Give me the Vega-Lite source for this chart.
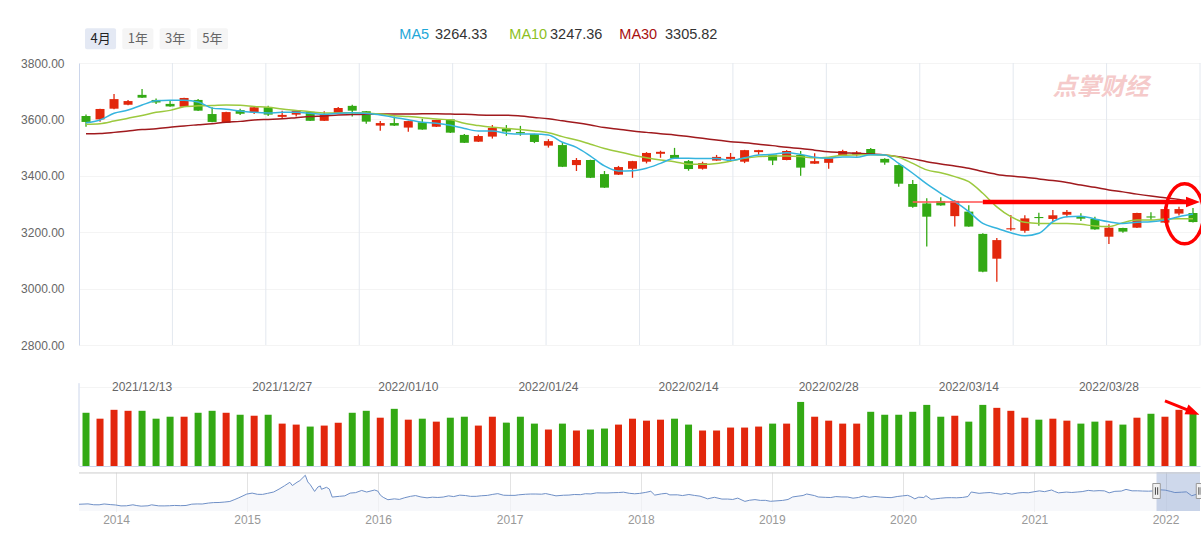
{
"$schema":"https://vega.github.io/schema/vega-lite/v6.json",
"autosize":{"type":"pad"},
"padding":{"left":20,"top":20,"right":0,"bottom":0},
"background":"white",
"spacing":6,
"bounds":"flush",
"config":{"view":{"stroke":null},"font":"Liberation Sans","axis":{"labelFont":"Liberation Sans"}},
"datasets":{
"k":[
{"d":"2021/12/07","o":3612,"h":3617,"l":3574,"c":3591,"v":162,"m5":3588,"m10":3583,"m30":3549},
{"d":"2021/12/08","o":3600,"h":3638,"l":3592,"c":3637,"v":144,"m5":3598,"m10":3585,"m30":3550},
{"d":"2021/12/09","o":3638,"h":3690,"l":3636,"c":3672,"v":171,"m5":3622,"m10":3594,"m30":3554},
{"d":"2021/12/10","o":3652,"h":3669,"l":3650,"c":3665,"v":168,"m5":3633,"m10":3604,"m30":3559},
{"d":"2021/12/13","o":3687,"h":3708,"l":3676,"c":3677,"v":168,"m5":3651,"m10":3614,"m30":3564},
{"d":"2021/12/14","o":3669,"h":3674,"l":3655,"c":3660,"v":144,"m5":3666,"m10":3625,"m30":3567},
{"d":"2021/12/15","o":3655,"h":3668,"l":3645,"c":3646,"v":150,"m5":3668,"m10":3632,"m30":3572},
{"d":"2021/12/16","o":3645,"h":3677,"l":3644,"c":3676,"v":150,"m5":3668,"m10":3645,"m30":3577},
{"d":"2021/12/17","o":3669,"h":3672,"l":3630,"c":3631,"v":162,"m5":3662,"m10":3648,"m30":3581},
{"d":"2021/12/20","o":3619,"h":3643,"l":3590,"c":3591,"v":168,"m5":3640,"m10":3649,"m30":3585},
{"d":"2021/12/21","o":3588,"h":3627,"l":3587,"c":3626,"v":162,"m5":3636,"m10":3651,"m30":3590},
{"d":"2021/12/22","o":3633,"h":3638,"l":3616,"c":3620,"v":156,"m5":3630,"m10":3650,"m30":3593},
{"d":"2021/12/23","o":3625,"h":3645,"l":3619,"c":3643,"v":153,"m5":3625,"m10":3646,"m30":3598},
{"d":"2021/12/24","o":3643,"h":3648,"l":3612,"c":3617,"v":156,"m5":3623,"m10":3643,"m30":3600},
{"d":"2021/12/27","o":3609,"h":3631,"l":3602,"c":3616,"v":129,"m5":3625,"m10":3637,"m30":3602},
{"d":"2021/12/28","o":3617,"h":3633,"l":3610,"c":3631,"v":126,"m5":3625,"m10":3632,"m30":3606},
{"d":"2021/12/29","o":3627,"h":3628,"l":3594,"c":3595,"v":120,"m5":3622,"m10":3627,"m30":3610},
{"d":"2021/12/30","o":3595,"h":3629,"l":3594,"c":3617,"v":123,"m5":3618,"m10":3623,"m30":3612},
{"d":"2021/12/31","o":3623,"h":3644,"l":3622,"c":3640,"v":132,"m5":3622,"m10":3623,"m30":3616},
{"d":"2022/01/04","o":3648,"h":3652,"l":3610,"c":3631,"v":162,"m5":3624,"m10":3624,"m30":3617},
{"d":"2022/01/05","o":3629,"h":3630,"l":3585,"c":3592,"v":168,"m5":3621,"m10":3623,"m30":3618},
{"d":"2022/01/06","o":3578,"h":3594,"l":3560,"c":3587,"v":147,"m5":3616,"m10":3619,"m30":3619},
{"d":"2022/01/07","o":3587,"h":3610,"l":3577,"c":3578,"v":174,"m5":3607,"m10":3613,"m30":3619},
{"d":"2022/01/10","o":3571,"h":3595,"l":3556,"c":3594,"v":141,"m5":3599,"m10":3610,"m30":3619},
{"d":"2022/01/11","o":3590,"h":3602,"l":3563,"c":3564,"v":144,"m5":3590,"m10":3606,"m30":3620},
{"d":"2022/01/12","o":3574,"h":3599,"l":3573,"c":3598,"v":135,"m5":3586,"m10":3601,"m30":3620},
{"d":"2022/01/13","o":3600,"h":3601,"l":3552,"c":3553,"v":147,"m5":3579,"m10":3599,"m30":3619},
{"d":"2022/01/14","o":3545,"h":3548,"l":3516,"c":3517,"v":150,"m5":3568,"m10":3586,"m30":3618},
{"d":"2022/01/17","o":3521,"h":3546,"l":3520,"c":3541,"v":123,"m5":3559,"m10":3578,"m30":3616},
{"d":"2022/01/18","o":3539,"h":3580,"l":3532,"c":3570,"v":150,"m5":3559,"m10":3572,"m30":3615},
{"d":"2022/01/19","o":3567,"h":3580,"l":3542,"c":3557,"v":132,"m5":3551,"m10":3568,"m30":3615},
{"d":"2022/01/20","o":3555,"h":3577,"l":3542,"c":3551,"v":150,"m5":3548,"m10":3564,"m30":3612},
{"d":"2022/01/21","o":3548,"h":3549,"l":3516,"c":3520,"v":129,"m5":3548,"m10":3559,"m30":3607},
{"d":"2022/01/24","o":3507,"h":3530,"l":3500,"c":3523,"v":111,"m5":3545,"m10":3553,"m30":3602},
{"d":"2022/01/25","o":3509,"h":3519,"l":3431,"c":3432,"v":129,"m5":3519,"m10":3539,"m30":3595},
{"d":"2022/01/26","o":3438,"h":3463,"l":3417,"c":3456,"v":108,"m5":3501,"m10":3527,"m30":3588},
{"d":"2022/01/27","o":3456,"h":3457,"l":3392,"c":3393,"v":111,"m5":3470,"m10":3512,"m30":3580},
{"d":"2022/01/28","o":3406,"h":3417,"l":3357,"c":3358,"v":114,"m5":3435,"m10":3497,"m30":3571},
{"d":"2022/02/07","o":3404,"h":3435,"l":3403,"c":3431,"v":126,"m5":3417,"m10":3485,"m30":3565},
{"d":"2022/02/08","o":3425,"h":3453,"l":3393,"c":3452,"v":144,"m5":3418,"m10":3474,"m30":3559},
{"d":"2022/02/09","o":3450,"h":3484,"l":3444,"c":3481,"v":138,"m5":3427,"m10":3464,"m30":3554},
{"d":"2022/02/10","o":3478,"h":3489,"l":3464,"c":3485,"v":141,"m5":3444,"m10":3456,"m30":3549},
{"d":"2022/02/11","o":3474,"h":3499,"l":3461,"c":3462,"v":144,"m5":3462,"m10":3450,"m30":3545},
{"d":"2022/02/14","o":3452,"h":3456,"l":3418,"c":3424,"v":126,"m5":3462,"m10":3441,"m30":3539},
{"d":"2022/02/15","o":3425,"h":3450,"l":3422,"c":3445,"v":108,"m5":3461,"m10":3441,"m30":3533},
{"d":"2022/02/16","o":3454,"h":3474,"l":3453,"c":3467,"v":108,"m5":3461,"m10":3444,"m30":3527},
{"d":"2022/02/17","o":3460,"h":3481,"l":3450,"c":3467,"v":117,"m5":3455,"m10":3452,"m30":3521},
{"d":"2022/02/18","o":3450,"h":3492,"l":3445,"c":3491,"v":117,"m5":3464,"m10":3462,"m30":3517},
{"d":"2022/02/21","o":3484,"h":3492,"l":3474,"c":3491,"v":120,"m5":3474,"m10":3468,"m30":3512},
{"d":"2022/02/22","o":3475,"h":3476,"l":3438,"c":3454,"v":129,"m5":3476,"m10":3470,"m30":3507},
{"d":"2022/02/23","o":3456,"h":3491,"l":3455,"c":3488,"v":129,"m5":3482,"m10":3470,"m30":3501},
{"d":"2022/02/24","o":3474,"h":3488,"l":3400,"c":3429,"v":195,"m5":3476,"m10":3468,"m30":3497},
{"d":"2022/02/25","o":3443,"h":3480,"l":3442,"c":3452,"v":150,"m5":3466,"m10":3464,"m30":3491},
{"d":"2022/02/28","o":3446,"h":3465,"l":3425,"c":3462,"v":138,"m5":3462,"m10":3466,"m30":3485},
{"d":"2022/03/01","o":3471,"h":3492,"l":3470,"c":3488,"v":129,"m5":3467,"m10":3473,"m30":3482},
{"d":"2022/03/02","o":3474,"h":3488,"l":3468,"c":3483,"v":129,"m5":3466,"m10":3474,"m30":3480},
{"d":"2022/03/03","o":3495,"h":3499,"l":3476,"c":3477,"v":165,"m5":3475,"m10":3475,"m30":3477},
{"d":"2022/03/04","o":3460,"h":3462,"l":3439,"c":3447,"v":156,"m5":3474,"m10":3474,"m30":3474},
{"d":"2022/03/07","o":3438,"h":3440,"l":3361,"c":3372,"v":156,"m5":3444,"m10":3466,"m30":3468},
{"d":"2022/03/08","o":3371,"h":3385,"l":3287,"c":3290,"v":165,"m5":3409,"m10":3444,"m30":3460},
{"d":"2022/03/09","o":3302,"h":3320,"l":3149,"c":3255,"v":186,"m5":3371,"m10":3421,"m30":3450},
{"d":"2022/03/10","o":3310,"h":3324,"l":3294,"c":3295,"v":150,"m5":3338,"m10":3411,"m30":3442},
{"d":"2022/03/11","o":3257,"h":3313,"l":3220,"c":3311,"v":153,"m5":3308,"m10":3397,"m30":3435},
{"d":"2022/03/14","o":3273,"h":3296,"l":3219,"c":3220,"v":135,"m5":3273,"m10":3379,"m30":3427},
{"d":"2022/03/15","o":3194,"h":3196,"l":3058,"c":3060,"v":186,"m5":3231,"m10":3338,"m30":3415},
{"d":"2022/03/16","o":3106,"h":3179,"l":3024,"c":3172,"v":177,"m5":3214,"m10":3290,"m30":3405},
{"d":"2022/03/17","o":3210,"h":3261,"l":3205,"c":3214,"v":168,"m5":3198,"m10":3255,"m30":3399},
{"d":"2022/03/18","o":3205,"h":3260,"l":3198,"c":3249,"v":147,"m5":3187,"m10":3235,"m30":3395},
{"d":"2022/03/21","o":3254,"h":3269,"l":3223,"c":3250,"v":141,"m5":3196,"m10":3231,"m30":3389},
{"d":"2022/03/22","o":3247,"h":3279,"l":3240,"c":3260,"v":144,"m5":3237,"m10":3231,"m30":3383},
{"d":"2022/03/23","o":3262,"h":3279,"l":3253,"c":3272,"v":138,"m5":3255,"m10":3231,"m30":3376},
{"d":"2022/03/24","o":3255,"h":3267,"l":3240,"c":3248,"v":129,"m5":3257,"m10":3228,"m30":3367},
{"d":"2022/03/25","o":3247,"h":3255,"l":3209,"c":3210,"v":135,"m5":3247,"m10":3222,"m30":3359},
{"d":"2022/03/28","o":3184,"h":3228,"l":3158,"c":3216,"v":138,"m5":3237,"m10":3220,"m30":3350},
{"d":"2022/03/29","o":3215,"h":3216,"l":3198,"c":3202,"v":126,"m5":3231,"m10":3234,"m30":3343},
{"d":"2022/03/30","o":3216,"h":3269,"l":3215,"c":3268,"v":147,"m5":3235,"m10":3243,"m30":3335},
{"d":"2022/03/31","o":3256,"h":3271,"l":3243,"c":3252,"v":159,"m5":3237,"m10":3243,"m30":3328},
{"d":"2022/04/01","o":3234,"h":3290,"l":3233,"c":3282,"v":150,"m5":3243,"m10":3247,"m30":3322},
{"d":"2022/04/06","o":3266,"h":3290,"l":3259,"c":3282,"v":171,"m5":3255,"m10":3248,"m30":3316},
{"d":"2022/04/07","o":3268,"h":3286,"l":3234,"c":3236,"v":159,"m5":3264.33,"m10":3247.36,"m30":3305.82}
],
"nav":[
{"t":"2013-09-20","p":2191},{"t":"2013-10-15","p":2230},{"t":"2013-10-31","p":2141},{"t":"2013-11-15","p":2135},{"t":"2013-11-29","p":2220},{"t":"2013-12-16","p":2160},{"t":"2013-12-31","p":2116},
{"t":"2014-01-15","p":2023},{"t":"2014-01-30","p":2033},{"t":"2014-02-17","p":2135},{"t":"2014-02-28","p":2056},{"t":"2014-03-12","p":1997},{"t":"2014-03-31","p":2033},{"t":"2014-04-10","p":2134},{"t":"2014-04-30","p":2026},{"t":"2014-05-15","p":2024},{"t":"2014-05-30","p":2039},{"t":"2014-06-13","p":2070},{"t":"2014-06-30","p":2048},{"t":"2014-07-15","p":2067},{"t":"2014-07-31","p":2201},{"t":"2014-08-15","p":2226},{"t":"2014-08-29","p":2217},{"t":"2014-09-15","p":2311},{"t":"2014-09-30","p":2363},{"t":"2014-10-15","p":2373},{"t":"2014-10-31","p":2420},{"t":"2014-11-14","p":2478},{"t":"2014-11-28","p":2683},{"t":"2014-12-09","p":2856},{"t":"2014-12-31","p":3235},
{"t":"2015-01-15","p":3336},{"t":"2015-01-30","p":3210},{"t":"2015-02-13","p":3203},{"t":"2015-02-27","p":3310},{"t":"2015-03-16","p":3449},{"t":"2015-03-31","p":3748},{"t":"2015-04-15","p":4084},{"t":"2015-04-30","p":4441},{"t":"2015-05-07","p":4112},{"t":"2015-05-20","p":4446},{"t":"2015-05-28","p":4620},{"t":"2015-06-12","p":5166},{"t":"2015-06-19","p":4478},{"t":"2015-06-26","p":4192},{"t":"2015-07-08","p":3507},{"t":"2015-07-17","p":3957},{"t":"2015-07-24","p":4070},{"t":"2015-07-27","p":3725},{"t":"2015-08-10","p":3928},{"t":"2015-08-18","p":3748},{"t":"2015-08-26","p":2927},{"t":"2015-09-15","p":3005},{"t":"2015-09-30","p":3053},{"t":"2015-10-15","p":3338},{"t":"2015-10-30","p":3383},{"t":"2015-11-16","p":3606},{"t":"2015-11-30","p":3445},{"t":"2015-12-22","p":3651},{"t":"2015-12-31","p":3539},
{"t":"2016-01-07","p":3125},{"t":"2016-01-15","p":2901},{"t":"2016-01-28","p":2656},{"t":"2016-02-15","p":2746},{"t":"2016-02-29","p":2688},{"t":"2016-03-15","p":2864},{"t":"2016-03-31","p":3004},{"t":"2016-04-14","p":3082},{"t":"2016-04-29","p":2938},{"t":"2016-05-16","p":2850},{"t":"2016-05-31","p":2917},{"t":"2016-06-15","p":2887},{"t":"2016-06-30","p":2930},{"t":"2016-07-15","p":3054},{"t":"2016-07-29","p":2979},{"t":"2016-08-15","p":3125},{"t":"2016-08-31","p":3085},{"t":"2016-09-14","p":3002},{"t":"2016-09-30","p":3005},{"t":"2016-10-14","p":3064},{"t":"2016-10-31","p":3100},{"t":"2016-11-15","p":3206},{"t":"2016-11-29","p":3282},{"t":"2016-12-15","p":3118},{"t":"2016-12-30","p":3104},
{"t":"2017-01-16","p":3103},{"t":"2017-01-26","p":3159},{"t":"2017-02-14","p":3217},{"t":"2017-02-28","p":3242},{"t":"2017-03-15","p":3241},{"t":"2017-03-31","p":3223},{"t":"2017-04-11","p":3289},{"t":"2017-04-28","p":3155},{"t":"2017-05-10","p":3053},{"t":"2017-05-31","p":3117},{"t":"2017-06-15","p":3132},{"t":"2017-06-30","p":3192},{"t":"2017-07-17","p":3176},{"t":"2017-07-31","p":3273},{"t":"2017-08-15","p":3251},{"t":"2017-08-31","p":3361},{"t":"2017-09-15","p":3353},{"t":"2017-09-29","p":3349},{"t":"2017-10-16","p":3378},{"t":"2017-10-31","p":3393},{"t":"2017-11-14","p":3430},{"t":"2017-11-30","p":3317},{"t":"2017-12-15","p":3266},{"t":"2017-12-29","p":3307},
{"t":"2018-01-15","p":3410},{"t":"2018-01-29","p":3523},{"t":"2018-02-09","p":3129},{"t":"2018-02-28","p":3259},{"t":"2018-03-13","p":3310},{"t":"2018-03-23","p":3153},{"t":"2018-04-13","p":3159},{"t":"2018-04-27","p":3082},{"t":"2018-05-15","p":3192},{"t":"2018-05-31","p":3095},{"t":"2018-06-15","p":3021},{"t":"2018-06-29","p":2847},{"t":"2018-07-06","p":2747},{"t":"2018-07-25","p":2904},{"t":"2018-08-15","p":2723},{"t":"2018-08-31","p":2725},{"t":"2018-09-14","p":2682},{"t":"2018-09-28","p":2821},{"t":"2018-10-18","p":2486},{"t":"2018-10-31","p":2603},{"t":"2018-11-15","p":2668},{"t":"2018-11-30","p":2588},{"t":"2018-12-14","p":2594},{"t":"2018-12-28","p":2494},
{"t":"2019-01-04","p":2514},{"t":"2019-01-31","p":2585},{"t":"2019-02-15","p":2682},{"t":"2019-02-28","p":2941},{"t":"2019-03-15","p":3021},{"t":"2019-03-29","p":3091},{"t":"2019-04-08","p":3244},{"t":"2019-04-30","p":3078},{"t":"2019-05-10","p":2939},{"t":"2019-05-31","p":2899},{"t":"2019-06-14","p":2882},{"t":"2019-06-28","p":2979},{"t":"2019-07-15","p":2942},{"t":"2019-07-31","p":2933},{"t":"2019-08-15","p":2815},{"t":"2019-08-30","p":2886},{"t":"2019-09-12","p":3031},{"t":"2019-09-30","p":2905},{"t":"2019-10-15","p":2991},{"t":"2019-10-31","p":2929},{"t":"2019-11-15","p":2891},{"t":"2019-11-29","p":2871},{"t":"2019-12-16","p":2984},{"t":"2019-12-31","p":3050},
{"t":"2020-01-14","p":3106},{"t":"2020-01-23","p":2977},{"t":"2020-02-03","p":2746},{"t":"2020-02-14","p":2917},{"t":"2020-02-28","p":2880},{"t":"2020-03-05","p":3071},{"t":"2020-03-19","p":2702},{"t":"2020-03-31","p":2750},{"t":"2020-04-15","p":2811},{"t":"2020-04-30","p":2860},{"t":"2020-05-15","p":2868},{"t":"2020-05-29","p":2852},{"t":"2020-06-15","p":2890},{"t":"2020-06-30","p":2985},{"t":"2020-07-09","p":3450},{"t":"2020-07-31","p":3310},{"t":"2020-08-14","p":3360},{"t":"2020-08-31","p":3396},{"t":"2020-09-15","p":3295},{"t":"2020-09-30","p":3218},{"t":"2020-10-15","p":3332},{"t":"2020-10-30","p":3225},{"t":"2020-11-16","p":3347},{"t":"2020-11-30","p":3392},{"t":"2020-12-15","p":3368},{"t":"2020-12-31","p":3473},
{"t":"2021-01-15","p":3566},{"t":"2021-01-29","p":3483},{"t":"2021-02-18","p":3655},{"t":"2021-02-26","p":3509},{"t":"2021-03-09","p":3360},{"t":"2021-03-31","p":3441},{"t":"2021-04-15","p":3398},{"t":"2021-04-30","p":3447},{"t":"2021-05-14","p":3490},{"t":"2021-05-31","p":3615},{"t":"2021-06-15","p":3556},{"t":"2021-06-30","p":3591},{"t":"2021-07-15","p":3564},{"t":"2021-07-28","p":3362},{"t":"2021-08-13","p":3517},{"t":"2021-08-31","p":3544},{"t":"2021-09-13","p":3715},{"t":"2021-09-30","p":3568},{"t":"2021-10-15","p":3572},{"t":"2021-10-29","p":3547},{"t":"2021-11-15","p":3533},{"t":"2021-11-30","p":3564},{"t":"2021-12-13","p":3681},{"t":"2021-12-31","p":3640},
{"t":"2022-01-14","p":3521},{"t":"2022-01-27","p":3394},{"t":"2022-02-14","p":3429},{"t":"2022-02-28","p":3462},{"t":"2022-03-15","p":3064},{"t":"2022-03-31","p":3252},{"t":"2022-04-07","p":3236}
]
},
"vconcat":[
{
"width":1121,"height":37,
"layer":[
{"data":{"values":[{"b":"4月","sel":true},{"b":"1年","sel":false},{"b":"3年","sel":false},{"b":"5年","sel":false}]},
 "mark":{"type":"rect","cornerRadius":2},
 "encoding":{
  "x":{"field":"b","type":"nominal","sort":null,"scale":{"type":"band","domain":["4月","1年","3年","5年"],"range":[6,149],"paddingInner":0.167,"paddingOuter":0},"axis":null},
  "y":{"datum":7.7,"type":"quantitative","scale":{"domain":[0,37]},"axis":null},
  "y2":{"datum":28.7},
  "color":{"condition":{"test":"datum.sel","value":"#e4e9f4"},"value":"#f5f5f5"}}},
{"data":{"values":[{"b":"4月","sel":true},{"b":"1年","sel":false},{"b":"3年","sel":false},{"b":"5年","sel":false}]},
 "mark":{"type":"text","fontSize":13,"font":"Noto Sans CJK SC"},
 "encoding":{
  "x":{"field":"b","type":"nominal","sort":null,"scale":{"type":"band","domain":["4月","1年","3年","5年"],"range":[6,149],"paddingInner":0.167,"paddingOuter":0},"axis":null},
  "text":{"field":"b"},
  "color":{"condition":{"test":"datum.sel","value":"#222222"},"value":"#666666"}}},
{"data":{"values":[{"n":"MA5"},{"n":"MA10"},{"n":"MA30"}]},
 "mark":{"type":"text","fontSize":14.5,"align":"left","dy":-3.5},
 "encoding":{
  "x":{"field":"n","type":"nominal","sort":null,"scale":{"type":"point","domain":["MA5","MA10","MA30"],"range":[320.3,540.3],"padding":0},"axis":null},
  "text":{"field":"n"},
  "color":{"field":"n","type":"nominal","scale":{"domain":["MA5","MA10","MA30"],"range":["#1fa7d8","#8dbf1e","#a80f0f"]},"legend":null}}},
{"data":{"values":[{"n":"MA5","val":"3264.33"},{"n":"MA10","val":"3247.36"},{"n":"MA30","val":"3305.82"}]},
 "mark":{"type":"text","fontSize":14.5,"align":"left","dy":-3.5,"color":"#333333"},
 "encoding":{
  "x":{"field":"n","type":"nominal","sort":null,"scale":{"type":"point","domain":["MA5","MA10","MA30"],"range":[356,586],"padding":0},"axis":null},
  "text":{"field":"val"}}}
],
"resolve":{"scale":{"x":"independent","color":"independent"}}
},
{
"width":1121,"height":282,
"layer":[
{"data":{"values":[{"g":1},{"g":2},{"g":3},{"g":4},{"g":5},{"g":6},{"g":7},{"g":8},{"g":9},{"g":10},{"g":11},{"g":12}]},
 "mark":{"type":"rule","color":"#e3e8ef","strokeWidth":1},
 "encoding":{"x":{"field":"g","type":"quantitative","scale":{"domain":[0,12]},"axis":null}}},
{"layer":[
 {"data":{"name":"k"},
  "mark":{"type":"rule","strokeWidth":1.3},
  "encoding":{
   "x":{"field":"d","type":"ordinal","scale":{"type":"band","paddingInner":0,"paddingOuter":0},"axis":null},
   "y":{"field":"l","type":"quantitative","scale":{"domain":[2800,3800],"zero":false},
        "axis":{"values":[2800,3000,3200,3400,3600,3800],"format":".2f","labelColor":"#666666","labelFontSize":12,"labelPadding":15,"ticks":false,"domainColor":"#ccd6eb","grid":true,"gridColor":"#f4f4f4","title":null}},
   "y2":{"field":"h"},
   "color":{"condition":{"test":"datum.c >= datum.o","value":"#e2270c"},"value":"#33a914"}}},
 {"data":{"name":"k"},
  "mark":{"type":"bar","width":9},
  "encoding":{
   "x":{"field":"d","type":"ordinal","scale":{"type":"band","paddingInner":0,"paddingOuter":0},"axis":null},
   "y":{"field":"o","type":"quantitative"},
   "y2":{"field":"c"},
   "color":{"condition":{"test":"datum.c >= datum.o","value":"#e2270c"},"value":"#33a914"}}},
 {"data":{"name":"k"},
  "mark":{"type":"line","color":"#a01a1e","strokeWidth":1.5,"interpolate":"monotone"},
  "encoding":{
   "x":{"field":"d","type":"ordinal","scale":{"type":"band","paddingInner":0,"paddingOuter":0},"axis":null},
   "y":{"field":"m30","type":"quantitative"}}},
 {"data":{"name":"k"},
  "mark":{"type":"line","color":"#9cc93e","strokeWidth":1.5,"interpolate":"monotone"},
  "encoding":{
   "x":{"field":"d","type":"ordinal","scale":{"type":"band","paddingInner":0,"paddingOuter":0},"axis":null},
   "y":{"field":"m10","type":"quantitative"}}},
 {"data":{"name":"k"},
  "mark":{"type":"line","color":"#35b4de","strokeWidth":1.5,"interpolate":"monotone"},
  "encoding":{
   "x":{"field":"d","type":"ordinal","scale":{"type":"band","paddingInner":0,"paddingOuter":0},"axis":null},
   "y":{"field":"m5","type":"quantitative"}}},
 {"data":{"values":[{"d":"2022/03/22","p":3711,"t":"点掌财经"}]},
  "mark":{"type":"text","align":"left","fontSize":24,"fontWeight":"bold","fontStyle":"italic","color":"#f5caca","font":"Noto Sans CJK SC"},
  "encoding":{
   "x":{"field":"d","type":"ordinal","scale":{"type":"band","paddingInner":0,"paddingOuter":0},"axis":null},
   "y":{"field":"p","type":"quantitative"},
   "text":{"field":"t"}}},
 {"data":{"values":[{"d":"2022/03/08","p":3307},{"d":"2022/03/15","p":3307}]},
  "mark":{"type":"line","color":"#ff5a5a","strokeWidth":2,"opacity":0.8},
  "encoding":{
   "x":{"field":"d","type":"ordinal","scale":{"type":"band","paddingInner":0,"paddingOuter":0},"axis":null},
   "y":{"field":"p","type":"quantitative"}}},
 {"data":{"values":[{"d":"2022/03/15","p":3307},{"d":"2022/04/07","p":3307}]},
  "mark":{"type":"line","color":"#ff0000","strokeWidth":4.5},
  "encoding":{
   "x":{"field":"d","type":"ordinal","scale":{"type":"band","paddingInner":0,"paddingOuter":0},"axis":null},
   "y":{"field":"p","type":"quantitative"}}},
 {"data":{"values":[{"d":"2022/04/07","p":3307}]},
  "mark":{"type":"point","shape":"M -1 -0.75 L 1 0 L -1 0.75 Z","size":196,"filled":true,"color":"#ff0000","opacity":1},
  "encoding":{
   "x":{"field":"d","type":"ordinal","scale":{"type":"band","paddingInner":0,"paddingOuter":0},"axis":null},
   "y":{"field":"p","type":"quantitative"}}},
 {"data":{"values":[{"d":"2022/04/06","p":3265}]},
  "mark":{"type":"point","shape":"M -0.633 0 A 0.633 1 0 1 0 0.633 0 A 0.633 1 0 1 0 -0.633 0 Z","size":3600,"filled":false,"stroke":"#ff0000","strokeWidth":3.5,"opacity":1},
  "encoding":{
   "x":{"field":"d","type":"ordinal","bandPosition":0.9,"scale":{"type":"band","paddingInner":0,"paddingOuter":0},"axis":null},
   "y":{"field":"p","type":"quantitative"}}}
 ]}
],
"resolve":{"scale":{"x":"independent"}}
},
{
"width":1121,"height":115,
"layer":[
 {"data":{"name":"k"},
  "mark":{"type":"bar","width":7},
  "encoding":{
   "x":{"field":"d","type":"ordinal","scale":{"type":"band","paddingInner":0,"paddingOuter":0},
        "axis":{"orient":"top","values":["2021/12/13","2021/12/27","2022/01/10","2022/01/24","2022/02/14","2022/02/28","2022/03/14","2022/03/28"],"domain":false,"ticks":false,"labelPadding":0,"offset":-42,"labelAngle":0,"labelColor":"#666666","labelFontSize":12,"labelOverlap":false,"title":null}},
   "y":{"field":"v","type":"quantitative","scale":{"domain":[0,345]},
        "axis":{"values":[0,40,80,120,160,200,240],"grid":true,"gridColor":{"condition":{"test":"datum.value === 0","value":"#ccd6eb"},"value":"#f4f4f4"},"labels":false,"ticks":false,"domain":false,"title":null}},
   "color":{"condition":{"test":"datum.c >= datum.o","value":"#e2270c"},"value":"#33a914"}}},
 {"data":{"values":[{"d":"2021/12/07"}]},
  "mark":{"type":"rule","color":"#ccd6eb"},
  "encoding":{
   "x":{"field":"d","type":"ordinal","bandPosition":0,"scale":{"type":"band","paddingInner":0,"paddingOuter":0}},
   "y":{"datum":0,"type":"quantitative"},
   "y2":{"datum":252}}},
 {"data":{"values":[{"d":"2022/04/01","v":198},{"d":"2022/04/07","v":164}]},
  "mark":{"type":"line","color":"#ff0000","strokeWidth":3},
  "encoding":{
   "x":{"field":"d","type":"ordinal","scale":{"type":"band","paddingInner":0,"paddingOuter":0}},
   "y":{"field":"v","type":"quantitative"}}},
 {"data":{"values":[{"d":"2022/04/07","v":164}]},
  "mark":{"type":"point","shape":"M -1 -0.75 L 1 0 L -1 0.75 Z","size":196,"filled":true,"color":"#ff0000","opacity":1,"angle":22},
  "encoding":{
   "x":{"field":"d","type":"ordinal","scale":{"type":"band","paddingInner":0,"paddingOuter":0}},
   "y":{"field":"v","type":"quantitative"}}}
]
},
{
"width":1121,"height":39,
"layer":[
 {"data":{"name":"nav"},
  "mark":{"type":"area","color":"#f3f5fa","line":{"color":"#6f90c7","strokeWidth":1},"clip":true},
  "encoding":{
   "x":{"field":"t","type":"temporal","scale":{"domain":["2013-09-20","2022-04-07"]},
        "axis":{"format":"%Y","tickCount":{"interval":"year","step":1},"grid":true,"gridColor":"#e3e3e3","domain":false,"ticks":false,"labelPadding":3,"labelColor":"#999999","labelFontSize":12,"title":null}},
   "y":{"field":"p","type":"quantitative","scale":{"domain":[1676,5401],"zero":false},"axis":null}}},
 {"data":{"values":[{"a":"2021-12-07","b":"2022-04-07"}]},
  "mark":{"type":"rect","color":"#6685c2","opacity":0.32},
  "encoding":{
   "x":{"field":"a","type":"temporal"},
   "x2":{"field":"b"}}},
 {"data":{"values":[{"p":5401}]},
  "mark":{"type":"rule","color":"#cccccc"},
  "encoding":{"y":{"field":"p","type":"quantitative"}}},
 {"data":{"values":[{"t":"2021-12-07","p":3550},{"t":"2022-04-07","p":3550}]},
  "mark":{"type":"point","shape":"M -0.5 -1 L 0.5 -1 L 0.5 1 L -0.5 1 Z","size":225,"filled":true,"fill":"#f2f2f2","stroke":"#999999","strokeWidth":1,"opacity":1},
  "encoding":{
   "x":{"field":"t","type":"temporal"},
   "y":{"field":"p","type":"quantitative"}}},
 {"data":{"values":[{"t":"2021-12-07","p":3550},{"t":"2022-04-07","p":3550}]},
  "mark":{"type":"point","shape":"M -0.15 -0.5 L -0.15 0.5 M 0.15 -0.5 L 0.15 0.5","size":225,"filled":false,"stroke":"#444444","strokeWidth":1,"opacity":1},
  "encoding":{
   "x":{"field":"t","type":"temporal"},
   "y":{"field":"p","type":"quantitative"}}}
]
}
]
}
